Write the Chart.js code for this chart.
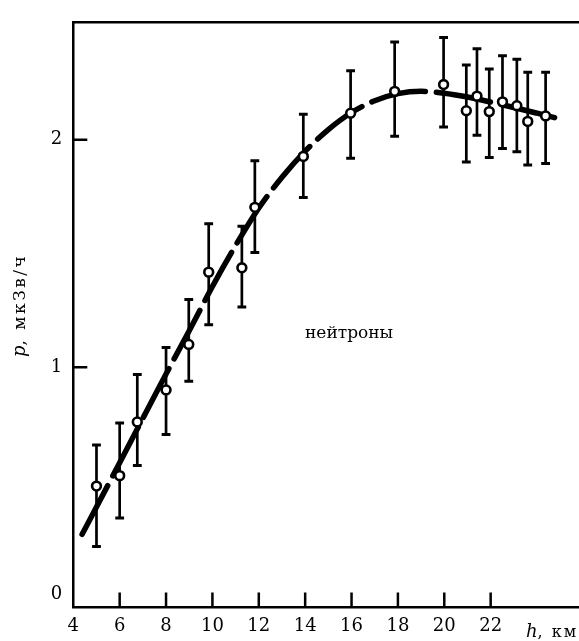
<!DOCTYPE html>
<html>
<head>
<meta charset="utf-8">
<script src="https://cdn.jsdelivr.net/npm/chart.js@4/dist/chart.umd.min.js"></script>
<style>
  html, body { margin: 0; padding: 0; background: #fff; }
  #wrap { width: 579px; height: 641px; }
</style>
</head>
<body>
<div id="wrap"><canvas id="c" width="579" height="641"></canvas></div>
<script>
// Measured dose rate of neutrons vs altitude, with error bars
const altitudeKm = [5.0, 6.0, 6.76, 8.0, 8.98, 9.84, 11.27, 11.83, 13.92, 15.96, 17.86, 19.97, 20.95, 21.41, 21.94, 22.51, 23.13, 23.6, 24.37];
const doseRate   = [0.477, 0.523, 0.759, 0.90, 1.10, 1.418, 1.437, 1.703, 1.927, 2.117, 2.213, 2.243, 2.128, 2.192, 2.124, 2.167, 2.150, 2.081, 2.105];
const errLow     = [0.211, 0.337, 0.568, 0.704, 0.938, 1.187, 1.265, 1.504, 1.746, 1.919, 2.016, 2.056, 1.902, 2.020, 1.922, 1.962, 1.948, 1.889, 1.896];
const errHigh    = [0.658, 0.755, 0.968, 1.086, 1.298, 1.631, 1.620, 1.908, 2.112, 2.304, 2.430, 2.450, 2.329, 2.400, 2.311, 2.370, 2.354, 2.297, 2.297];

// Smooth fitted curve
const curveKm   = [4.38, 5, 6, 7, 8, 9, 10, 11, 12, 13, 14, 15, 16, 17, 18, 19, 20, 21, 22, 23, 24, 25.06];
const curveRate = [0.265, 0.385, 0.58, 0.775, 0.97, 1.16, 1.355, 1.535, 1.70, 1.835, 1.95, 2.045, 2.12, 2.172, 2.203, 2.213, 2.205, 2.188, 2.166, 2.142, 2.117, 2.09];

// Tick labels
const xTicks = [4, 6, 8, 10, 12, 14, 16, 18, 20, 22];
const yTicks = [0, 1, 2];
const xTickMarks = [6, 8, 10, 12, 14, 16, 18, 20, 22];
const yTickMarks = [1, 2];

const FONT = '"DejaVu Serif", serif';

const points = altitudeKm.map((h, i) => ({ x: h, y: doseRate[i] }));
const curve = curveKm.map((h, i) => ({ x: h, y: curveRate[i] }));

// Vertical error bars with caps, drawn beneath the curve and markers
const errorBars = {
  id: 'errorBars',
  beforeDatasetsDraw(chart) {
    const { ctx, scales: { x, y } } = chart;
    ctx.save();
    ctx.strokeStyle = '#000';
    altitudeKm.forEach((h, i) => {
      const px = x.getPixelForValue(h);
      const top = y.getPixelForValue(errHigh[i]);
      const bot = y.getPixelForValue(errLow[i]);
      ctx.lineWidth = 2.7;
      ctx.beginPath();
      ctx.moveTo(px, top);
      ctx.lineTo(px, bot);
      ctx.stroke();
      ctx.lineWidth = 3;
      ctx.beginPath();
      ctx.moveTo(px - 4.4, top); ctx.lineTo(px + 4.4, top);
      ctx.moveTo(px - 4.4, bot); ctx.lineTo(px + 4.4, bot);
      ctx.stroke();
    });
    ctx.restore();
  }
};

// Inward tick marks, axis titles and the in-plot caption
const decorations = {
  id: 'decorations',
  afterDraw(chart) {
    const { ctx, chartArea, scales: { x, y } } = chart;
    ctx.save();
    ctx.strokeStyle = '#000';
    ctx.lineWidth = 2.5;
    ctx.beginPath();
    xTickMarks.forEach(v => {
      const px = x.getPixelForValue(v);
      ctx.moveTo(px, chartArea.bottom);
      ctx.lineTo(px, chartArea.bottom - 15);
    });
    yTickMarks.forEach(v => {
      const py = y.getPixelForValue(v);
      ctx.moveTo(chartArea.left, py);
      ctx.lineTo(chartArea.left + 14, py);
    });
    ctx.stroke();

    ctx.fillStyle = '#000';
    ctx.textBaseline = 'alphabetic';
    ctx.textAlign = 'left';

    // x-axis title
    ctx.font = 'italic 18px ' + FONT;
    ctx.fillText('h', 526, 637);
    const hw = ctx.measureText('h').width;
    ctx.font = '16px ' + FONT;
    ctx.letterSpacing = '2px';
    ctx.fillText(', км', 526 + hw, 637);
    ctx.letterSpacing = '0px';

    // y-axis title, rotated
    ctx.save();
    ctx.translate(25, 357);
    ctx.rotate(-Math.PI / 2);
    ctx.font = 'italic 18px ' + FONT;
    ctx.fillText('p', 0, 0);
    const pw = ctx.measureText('p').width;
    ctx.font = '17px ' + FONT;
    ctx.letterSpacing = '2.5px';
    ctx.fillText(', мкЗв/ч', pw, 0);
    ctx.letterSpacing = '0px';
    ctx.restore();

    // caption
    ctx.font = '17px ' + FONT;
    ctx.fillText('нейтроны', 305, 338);
    ctx.restore();
  }
};

new Chart(document.getElementById('c'), {
  type: 'scatter',
  data: {
    datasets: [
      {
        data: points,
        showLine: false,
        pointStyle: 'circle',
        pointRadius: 4.4,
        pointBorderWidth: 2.6,
        pointBackgroundColor: '#fff',
        pointBorderColor: '#000'
      },
      {
        type: 'line',
        data: curve,
        showLine: true,
        borderColor: '#000',
        borderWidth: 5.5,
        borderDash: [55, 11],
        borderCapStyle: 'round',
        cubicInterpolationMode: 'monotone',
        pointRadius: 0,
        fill: false
      }
    ]
  },
  options: {
    responsive: false,
    animation: false,
    devicePixelRatio: 1,
    layout: { padding: 0, autoPadding: false },
    plugins: { legend: { display: false }, tooltip: { enabled: false } },
    scales: {
      x: {
        type: 'linear',
        position: 'bottom',
        min: 4,
        max: 25.81,
        afterBuildTicks: s => { s.ticks = xTicks.map(v => ({ value: v })); },
        afterFit: s => { s.height = 33.5; },
        grid: { drawOnChartArea: false, drawTicks: false },
        border: { display: true, color: '#000', width: 2.5 },
        ticks: {
          color: '#000',
          font: { family: FONT, size: 18 },
          padding: 8,
          maxRotation: 0,
          autoSkip: false,
          callback: v => String(v)
        }
      },
      xTop: {
        type: 'linear',
        position: 'top',
        min: 4,
        max: 25.81,
        afterFit: s => { s.height = 12; },
        grid: { drawOnChartArea: false, drawTicks: false },
        border: { display: true, color: '#000', width: 2.5 },
        ticks: { display: false }
      },
      y: {
        type: 'linear',
        min: -0.057,
        max: 2.519,
        afterBuildTicks: s => { s.ticks = yTicks.map(v => ({ value: v })); },
        afterFit: s => { s.width = 73.3; },
        grid: { drawOnChartArea: false, drawTicks: false },
        border: { display: true, color: '#000', width: 2.5 },
        ticks: {
          color: '#000',
          font: { family: FONT, size: 18 },
          padding: 11,
          callback: v => String(v)
        }
      }
    }
  },
  plugins: [errorBars, decorations]
});
</script>
</body>
</html>
